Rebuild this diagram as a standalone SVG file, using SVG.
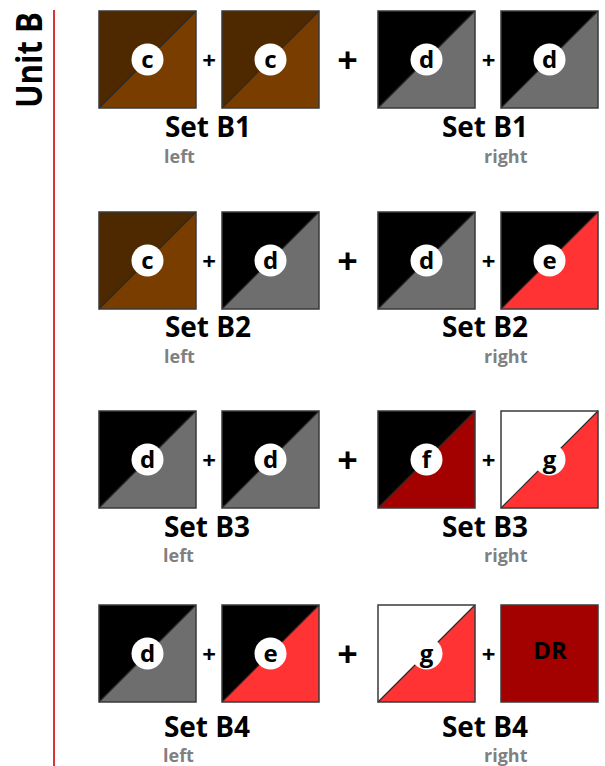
<svg xmlns="http://www.w3.org/2000/svg" width="605" height="766" viewBox="0 0 605 766">
<style>
text{font-family:"Open Sans","Liberation Sans",sans-serif;font-weight:bold}
.bd{fill:none;stroke:#3a3a3a;stroke-width:1.5}
.dg{stroke:#2a2a2a;stroke-width:1.2}
.ci{fill:#fff}
.lt{font-size:24px;fill:#000;text-anchor:middle}
.set{font-size:28px;fill:#000;text-anchor:middle}
.sub{font-size:18px;fill:#808080}
.ps{font-size:24px;fill:#000;text-anchor:middle}
.pb{font-size:36px;fill:#000;text-anchor:middle}
.brD{fill:#4e2900}.brL{fill:#7a3d00}
.blk{fill:#000}.gry{fill:#6e6e6e}
.red{fill:#ff3333}.dred{fill:#a30000}.wht{fill:#fff}
</style>
<line x1="54" y1="10" x2="54" y2="766" stroke="#d40000" stroke-width="1.6"/>
<text x="42" y="60" transform="rotate(-90 42 60)" font-size="35" text-anchor="middle" textLength="96" lengthAdjust="spacingAndGlyphs" fill="#000">Unit B</text>

<!-- Row 1 -->
<g id="b1-l1"><rect class="brL" x="99" y="11" width="97" height="97"/><polygon class="brD" points="99,11 196,11 99,108"/><line class="dg" x1="99" y1="108" x2="196" y2="11"/><rect class="bd" x="99" y="11" width="97" height="97"/><circle class="ci" cx="147.5" cy="59.5" r="16"/><text class="lt" x="147.5" y="67.5">c</text></g>
<g id="b1-l2"><rect class="brL" x="222" y="11" width="97" height="97"/><polygon class="brD" points="222,11 319,11 222,108"/><line class="dg" x1="222" y1="108" x2="319" y2="11"/><rect class="bd" x="222" y="11" width="97" height="97"/><circle class="ci" cx="270.5" cy="59.5" r="16"/><text class="lt" x="270.5" y="67.5">c</text></g>
<g id="b1-r1"><rect class="gry" x="378" y="11" width="97" height="97"/><polygon class="blk" points="378,11 475,11 378,108"/><line class="dg" x1="378" y1="108" x2="475" y2="11"/><rect class="bd" x="378" y="11" width="97" height="97"/><circle class="ci" cx="426.5" cy="59.5" r="16"/><text class="lt" x="426.5" y="67.5">d</text></g>
<g id="b1-r2"><rect class="gry" x="501" y="11" width="97" height="97"/><polygon class="blk" points="501,11 598,11 501,108"/><line class="dg" x1="501" y1="108" x2="598" y2="11"/><rect class="bd" x="501" y="11" width="97" height="97"/><circle class="ci" cx="549.5" cy="59.5" r="16"/><text class="lt" x="549.5" y="67.5">d</text></g>
<g id="b1-ops"><text class="ps" x="209" y="69">+</text><text class="pb" x="347.5" y="73">+</text><text class="ps" x="488.5" y="69">+</text></g>
<g id="b1-labels"><text class="set" x="208" y="137">Set B1</text><text class="sub" x="164" y="163">left</text><text class="set" x="485" y="137">Set B1</text><text class="sub" x="484" y="163">right</text></g>

<!-- Row 2 -->
<g id="b2-l1"><rect class="brL" x="99" y="212" width="97" height="97"/><polygon class="brD" points="99,212 196,212 99,309"/><line class="dg" x1="99" y1="309" x2="196" y2="212"/><rect class="bd" x="99" y="212" width="97" height="97"/><circle class="ci" cx="147.5" cy="260.5" r="16"/><text class="lt" x="147.5" y="268.5">c</text></g>
<g id="b2-l2"><rect class="gry" x="222" y="212" width="97" height="97"/><polygon class="blk" points="222,212 319,212 222,309"/><line class="dg" x1="222" y1="309" x2="319" y2="212"/><rect class="bd" x="222" y="212" width="97" height="97"/><circle class="ci" cx="270.5" cy="260.5" r="16"/><text class="lt" x="270.5" y="268.5">d</text></g>
<g id="b2-r1"><rect class="gry" x="378" y="212" width="97" height="97"/><polygon class="blk" points="378,212 475,212 378,309"/><line class="dg" x1="378" y1="309" x2="475" y2="212"/><rect class="bd" x="378" y="212" width="97" height="97"/><circle class="ci" cx="426.5" cy="260.5" r="16"/><text class="lt" x="426.5" y="268.5">d</text></g>
<g id="b2-r2"><rect class="red" x="501" y="212" width="97" height="97"/><polygon class="blk" points="501,212 598,212 501,309"/><line class="dg" x1="501" y1="309" x2="598" y2="212"/><rect class="bd" x="501" y="212" width="97" height="97"/><circle class="ci" cx="549.5" cy="260.5" r="16"/><text class="lt" x="549.5" y="268.5">e</text></g>
<g id="b2-ops"><text class="ps" x="209" y="270">+</text><text class="pb" x="347.5" y="274">+</text><text class="ps" x="488.5" y="270">+</text></g>
<g id="b2-labels"><text class="set" x="208" y="337">Set B2</text><text class="sub" x="164" y="363">left</text><text class="set" x="485" y="337">Set B2</text><text class="sub" x="484" y="363">right</text></g>

<!-- Row 3 -->
<g id="b3-l1"><rect class="gry" x="99" y="411" width="97" height="97"/><polygon class="blk" points="99,411 196,411 99,508"/><line class="dg" x1="99" y1="508" x2="196" y2="411"/><rect class="bd" x="99" y="411" width="97" height="97"/><circle class="ci" cx="147.5" cy="459.5" r="16"/><text class="lt" x="147.5" y="467.5">d</text></g>
<g id="b3-l2"><rect class="gry" x="222" y="411" width="97" height="97"/><polygon class="blk" points="222,411 319,411 222,508"/><line class="dg" x1="222" y1="508" x2="319" y2="411"/><rect class="bd" x="222" y="411" width="97" height="97"/><circle class="ci" cx="270.5" cy="459.5" r="16"/><text class="lt" x="270.5" y="467.5">d</text></g>
<g id="b3-r1"><rect class="dred" x="378" y="411" width="97" height="97"/><polygon class="blk" points="378,411 475,411 378,508"/><line class="dg" x1="378" y1="508" x2="475" y2="411"/><rect class="bd" x="378" y="411" width="97" height="97"/><circle class="ci" cx="426.5" cy="459.5" r="16"/><text class="lt" x="426.5" y="467.5">f</text></g>
<g id="b3-r2"><rect class="red" x="501" y="411" width="97" height="97"/><polygon class="wht" points="501,411 598,411 501,508"/><line class="dg" x1="501" y1="508" x2="598" y2="411"/><rect class="bd" x="501" y="411" width="97" height="97"/><circle class="ci" cx="549.5" cy="459.5" r="16"/><text class="lt" x="549.5" y="467.5">g</text></g>
<g id="b3-ops"><text class="ps" x="209" y="469">+</text><text class="pb" x="347.5" y="473">+</text><text class="ps" x="488.5" y="469">+</text></g>
<g id="b3-labels"><text class="set" x="207" y="537">Set B3</text><text class="sub" x="163" y="562">left</text><text class="set" x="485" y="537">Set B3</text><text class="sub" x="484" y="562">right</text></g>

<!-- Row 4 -->
<g id="b4-l1"><rect class="gry" x="99" y="605" width="97" height="97"/><polygon class="blk" points="99,605 196,605 99,702"/><line class="dg" x1="99" y1="702" x2="196" y2="605"/><rect class="bd" x="99" y="605" width="97" height="97"/><circle class="ci" cx="147.5" cy="653.5" r="16"/><text class="lt" x="147.5" y="661.5">d</text></g>
<g id="b4-l2"><rect class="red" x="222" y="605" width="97" height="97"/><polygon class="blk" points="222,605 319,605 222,702"/><line class="dg" x1="222" y1="702" x2="319" y2="605"/><rect class="bd" x="222" y="605" width="97" height="97"/><circle class="ci" cx="270.5" cy="653.5" r="16"/><text class="lt" x="270.5" y="661.5">e</text></g>
<g id="b4-r1"><rect class="red" x="378" y="605" width="97" height="97"/><polygon class="wht" points="378,605 475,605 378,702"/><line class="dg" x1="378" y1="702" x2="475" y2="605"/><rect class="bd" x="378" y="605" width="97" height="97"/><circle class="ci" cx="426.5" cy="653.5" r="16"/><text class="lt" x="426.5" y="661.5">g</text></g>
<g id="b4-r2"><rect class="dred" x="501" y="605" width="97" height="97"/><rect class="bd" x="501" y="605" width="97" height="97"/><text class="lt" x="550" y="659" font-size="23">DR</text></g>
<g id="b4-ops"><text class="ps" x="209" y="663">+</text><text class="pb" x="347.5" y="667">+</text><text class="ps" x="488.5" y="663">+</text></g>
<g id="b4-labels"><text class="set" x="207" y="737">Set B4</text><text class="sub" x="163" y="762">left</text><text class="set" x="485" y="737">Set B4</text><text class="sub" x="484" y="762">right</text></g>
</svg>
